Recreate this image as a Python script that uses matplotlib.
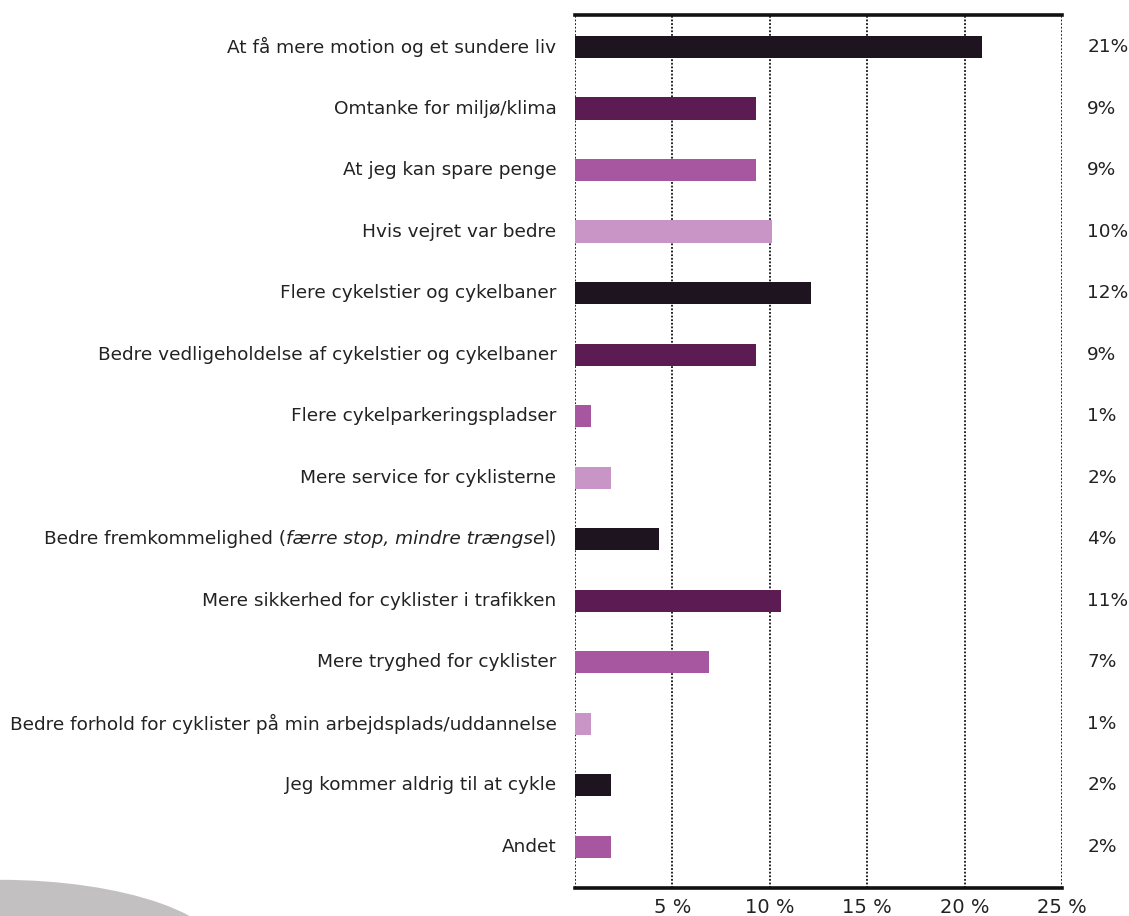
import matplotlib
matplotlib.use("Agg")
import matplotlib.pyplot as plt
from matplotlib.patches import Ellipse
from matplotlib.transforms import offset_copy

labels = [
    "At få mere motion og et sundere liv",
    "Omtanke for miljø/klima",
    "At jeg kan spare penge",
    "Hvis vejret var bedre",
    "Flere cykelstier og cykelbaner",
    "Bedre vedligeholdelse af cykelstier og cykelbaner",
    "Flere cykelparkeringspladser",
    "Mere service for cyklisterne",
    "Bedre fremkommelighed (færre stop, mindre trængsel)",
    "Mere sikkerhed for cyklister i trafikken",
    "Mere tryghed for cyklister",
    "Bedre forhold for cyklister på min arbejdsplads/uddannelse",
    "Jeg kommer aldrig til at cykle",
    "Andet",
]
values = [20.9, 9.3, 9.3, 10.1, 12.1, 9.3, 0.8, 1.85, 4.3, 10.6, 6.9, 0.8, 1.85, 1.85]
value_labels = ["21%", "9%", "9%", "10%", "12%", "9%", "1%", "2%", "4%",
                "11%", "7%", "1%", "2%", "2%"]
xticks = [5, 10, 15, 20, 25]
xtick_labels = ["5 %", "10 %", "15 %", "20 %", "25 %"]

dark = "#1d1420"
purple = "#5d1b53"
magenta = "#a6579f"
pink = "#c994c6"
colors = [dark, purple, magenta, pink, dark, purple, magenta, pink,
          dark, purple, magenta, pink, dark, magenta]

fs = 13.3
txt = "#222222"

fig = plt.figure(figsize=(11.29, 9.16), dpi=100)
ax = fig.add_axes([575 / 1129, 1 - 888 / 916, 487 / 1129, (888 - 15) / 916])

ypos = list(range(len(labels)))
ax.barh(ypos, values, height=0.36, color=colors, zorder=3)
ax.set_xlim(0, 25)
ax.set_ylim(len(labels) - 1 + 0.67, -0.52)

for x in [0] + xticks:
    ax.axvline(x, color="#111111", linestyle=(0, (1, 1)), linewidth=1.3, zorder=2)

for side in ["left", "right"]:
    ax.spines[side].set_visible(False)
for side in ["top", "bottom"]:
    ax.spines[side].set_linewidth(2.6)
    ax.spines[side].set_color("#111111")

ax.set_xticks(xticks)
ax.set_xticklabels(xtick_labels, fontsize=14, color=txt)
ax.tick_params(axis="x", length=0, pad=7)
ax.set_yticks([])

# category labels (one contains an italic part)
for i, lab in enumerate(labels):
    if "(færre" in lab:
        continue
    ax.text(-0.95, i, lab, ha="right", va="center", fontsize=fs, color=txt)

fig.canvas.draw()
renderer = fig.canvas.get_renderer()
i9 = labels.index("Bedre fremkommelighed (færre stop, mindre trængsel)")
parts = [("l)", "normal"), ("færre stop, mindre trængse", "italic"),
         ("Bedre fremkommelighed (", "normal")]
shift = 0.0
for s, style in parts:
    tr = offset_copy(ax.transData, fig=fig, x=-shift, y=0, units="dots")
    t = ax.text(-0.95, i9, s, ha="right", va="center", fontsize=fs,
                color=txt, style=style, transform=tr)
    shift += t.get_window_extent(renderer).width

for i, vl in enumerate(value_labels):
    ax.text(26.3, i, vl, ha="left", va="center", fontsize=fs, color=txt)

# grey decorative shape in lower left corner
fig.patches.append(Ellipse((0.0, -0.048), 0.402, 0.175, transform=fig.transFigure,
                           facecolor="#c2c0c0", edgecolor="none", zorder=0))

fig.savefig("out.png", dpi=100)
